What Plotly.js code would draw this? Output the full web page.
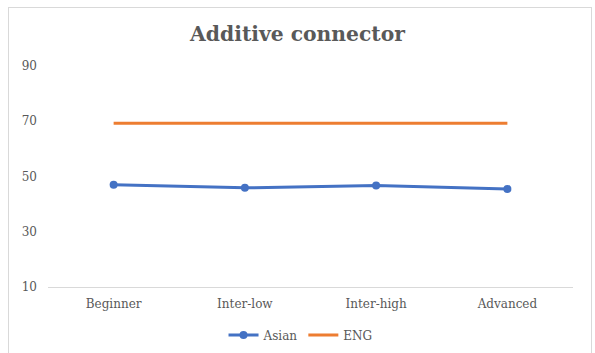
<!DOCTYPE html>
<html>
<head>
<meta charset="utf-8">
<script src="https://cdn.plot.ly/plotly-3.0.1.min.js"></script>
<style>
  html, body { margin: 0; padding: 0; background: #ffffff; overflow: hidden; }
  #chart { position: absolute; left: 0; top: 0; width: 595px; height: 353px; }
  #frame { position: absolute; left: 8px; top: 7px; width: 582px; height: 370px;
           border: 1px solid #d9d9d9; pointer-events: none; }
</style>
</head>
<body>
<div id="chart"></div>
<div id="frame"></div>
<script>
// Proficiency levels on the category axis
const levels = ["Beginner", "Inter-low", "Inter-high", "Advanced"];
// Additive connector use per level
const asianValues = [47.0, 45.9, 46.7, 45.5];
const engValues = [69.3, 69.3, 69.3, 69.3];
// Value axis ticks
const yTicks = [10, 30, 50, 70, 90];

const textColor = "#595959";
const fontFamily = "DejaVu Serif, Liberation Serif, serif";

const traces = [
  {
    x: levels, y: asianValues, name: "Asian", type: "scatter", mode: "lines+markers",
    line: { color: "#4472C4", width: 3 },
    marker: { color: "#4472C4", size: 8 }
  },
  {
    x: levels, y: engValues, name: "ENG", type: "scatter", mode: "lines",
    line: { color: "#ED7D31", width: 3 }
  }
];

const layout = {
  width: 595, height: 353,
  margin: { l: 48, r: 22, t: 66, b: 66, autoexpand: false },
  paper_bgcolor: "rgba(0,0,0,0)",
  plot_bgcolor: "#ffffff",
  font: { family: fontFamily, size: 12, color: textColor },
  title: {
    text: "<b>Additive connector</b>",
    font: { family: fontFamily, size: 20.3, color: textColor },
    x: 0.5, xanchor: "center", y: 0.904, yanchor: "middle"
  },
  xaxis: {
    type: "category", range: [-0.5, 3.5],
    showline: true, linecolor: "#d9d9d9", linewidth: 1,
    showgrid: false, zeroline: false, ticks: "",
    ticklabelstandoff: 6,
    tickfont: { family: fontFamily, size: 12, color: textColor }
  },
  yaxis: {
    range: [10, 90], tickvals: yTicks, ticktext: yTicks.map(String),
    showline: false, showgrid: false, zeroline: false, ticks: "",
    ticklabelstandoff: 10,
    tickfont: { family: fontFamily, size: 12, color: textColor }
  },
  showlegend: true,
  legend: {
    orientation: "h", x: 0.481, xanchor: "center",
    yref: "container", y: 0.051, yanchor: "middle",
    font: { family: fontFamily, size: 12, color: textColor },
    itemwidth: 30, bgcolor: "rgba(0,0,0,0)"
  }
};

Plotly.newPlot("chart", traces, layout, { staticPlot: true, displayModeBar: false });
</script>
</body>
</html>
